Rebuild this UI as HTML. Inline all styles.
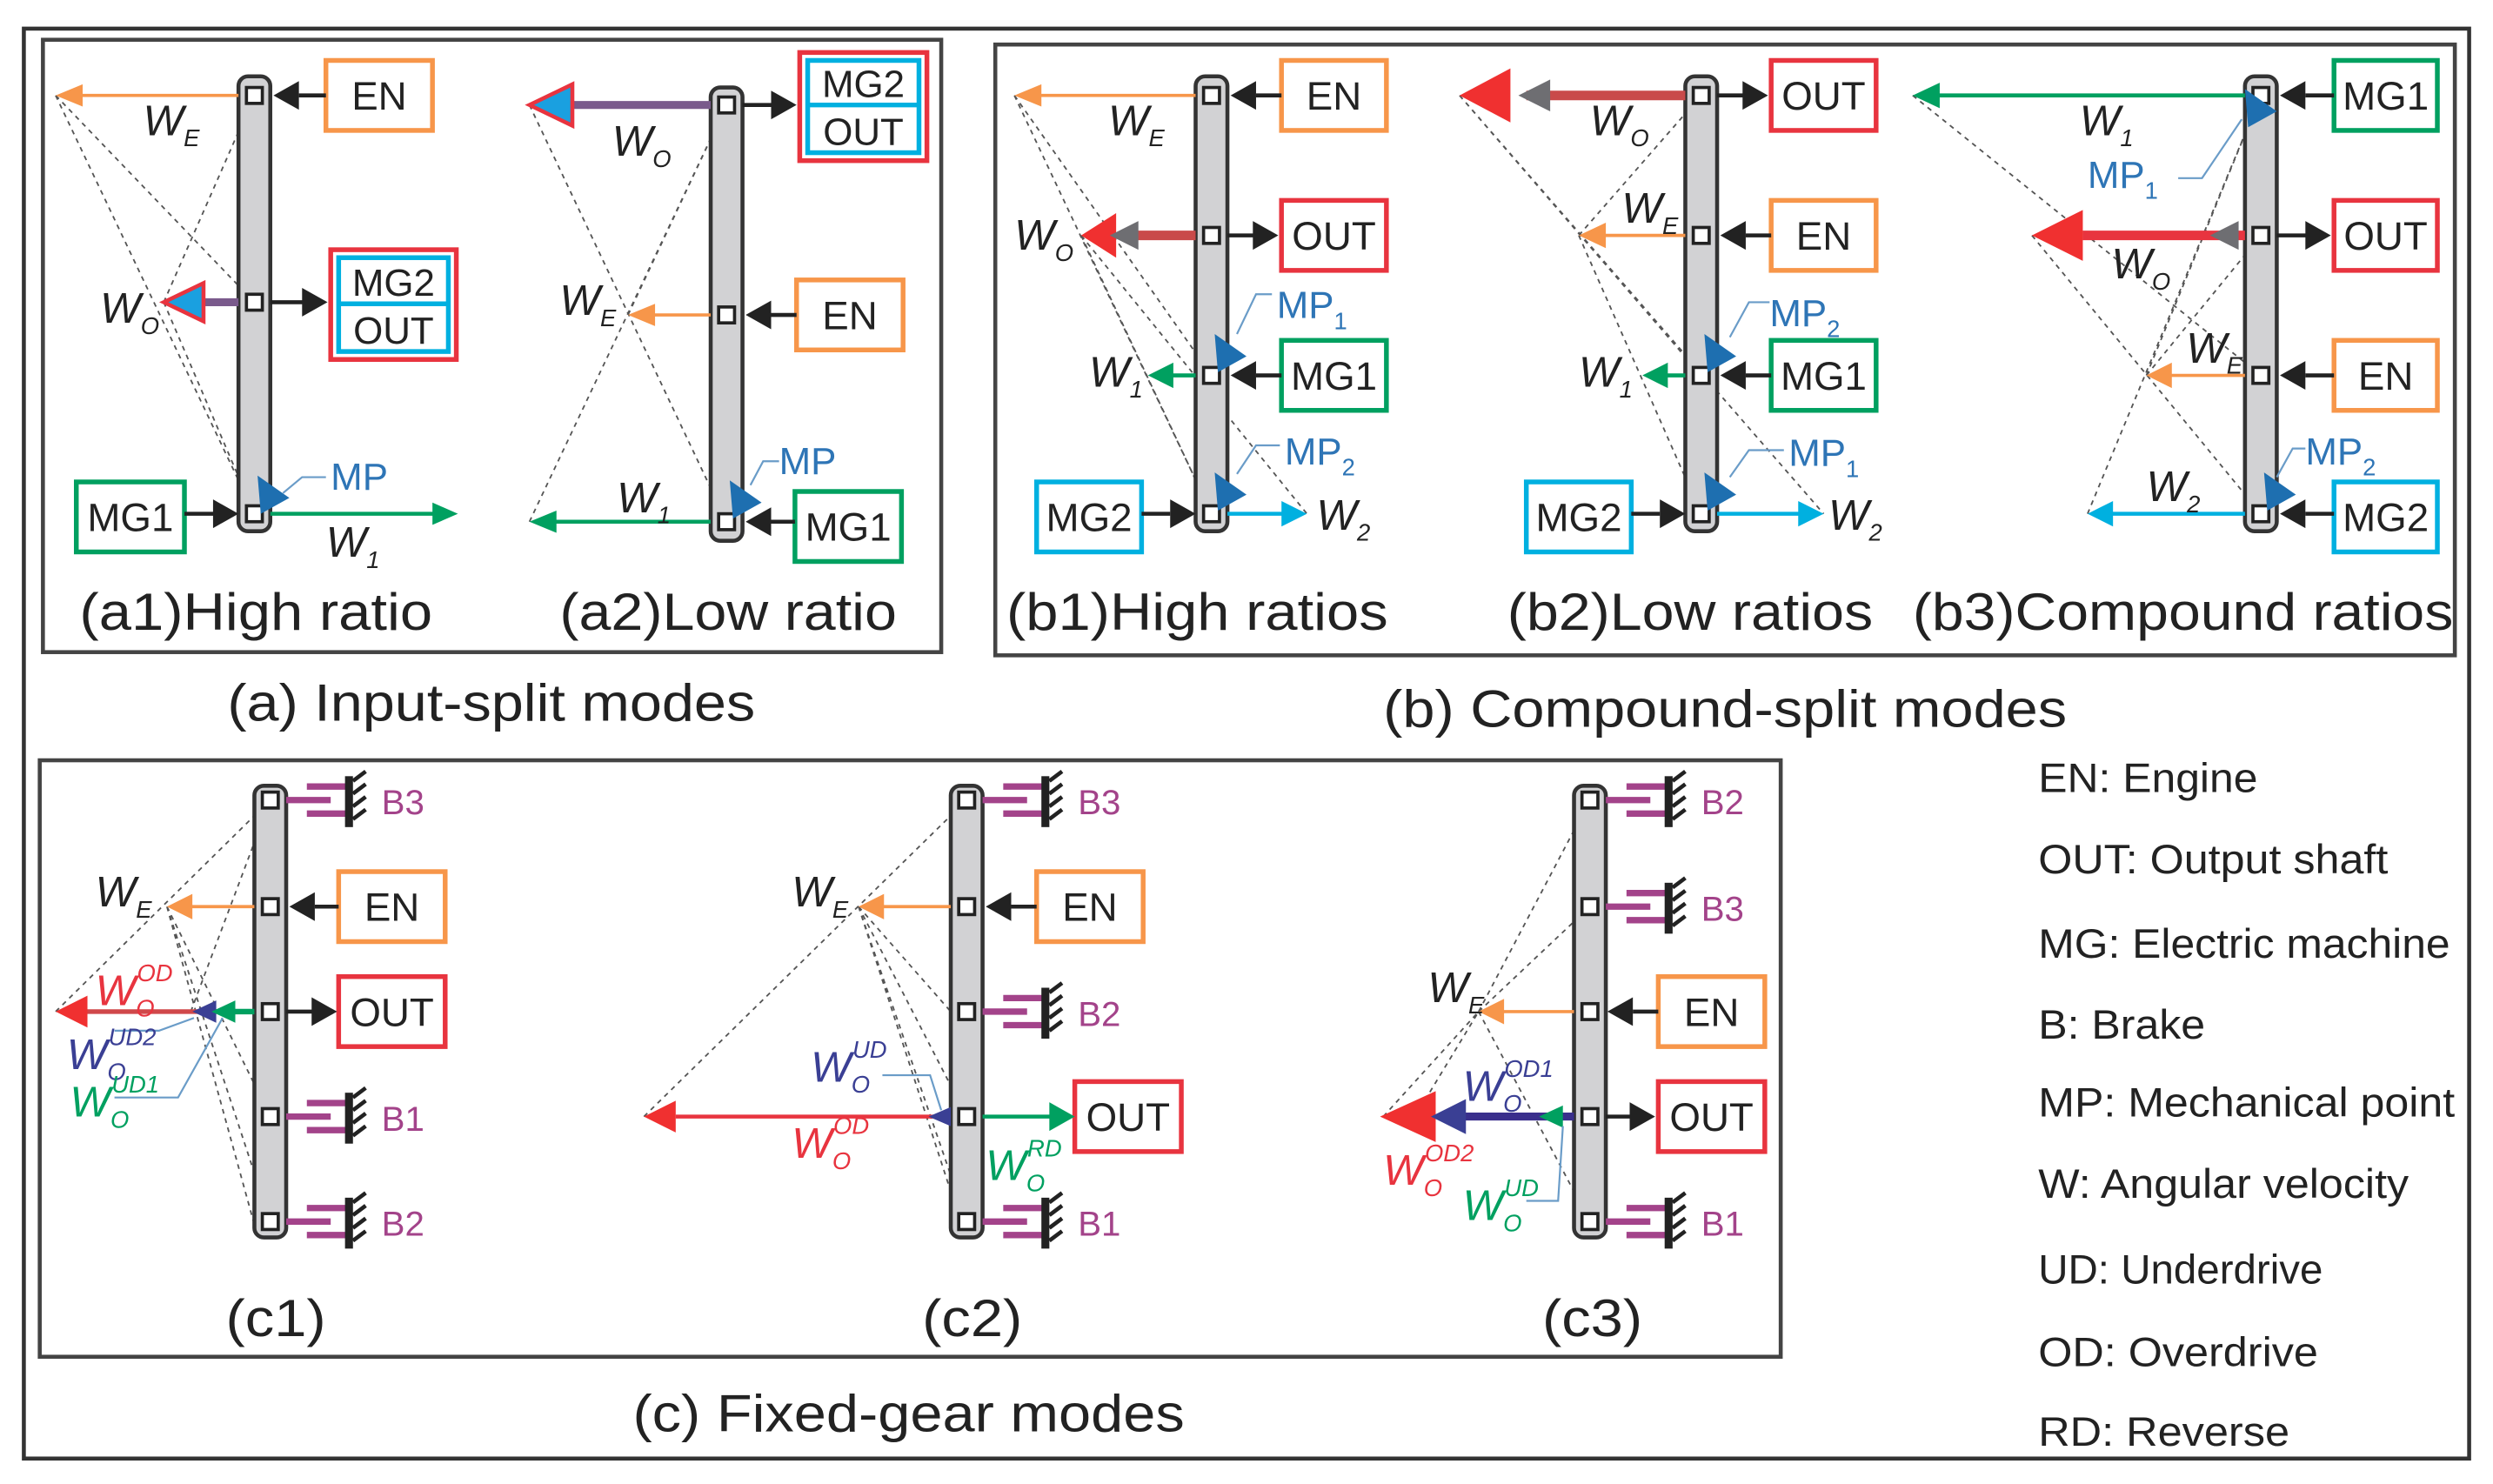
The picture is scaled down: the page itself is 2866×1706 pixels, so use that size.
<!DOCTYPE html>
<html><head><meta charset="utf-8"><style>
html,body{margin:0;padding:0;background:#fff}
svg{display:block}
text{font-family:"Liberation Sans",Arial,sans-serif}
.bx{font-size:25px;fill:#222;text-anchor:middle}
.w{font-size:27px;font-style:italic;fill:#222}
.s{font-size:15px;font-style:italic}
.mp{font-size:24px;fill:#2e75b6}
.lb{font-size:33px;fill:#222}
.lg{font-size:26px;fill:#222}
.br{font-size:22px;fill:#a3438a}
.d{stroke:#555;stroke-width:1;stroke-dasharray:3 3;fill:none}
.lev{fill:#d2d2d4;stroke:#333;stroke-width:2.5}
.nd{fill:#fff;stroke:#222;stroke-width:2}
.k{stroke:#222;stroke-width:2.5}
</style></head><body>
<svg width="2866" height="1706" viewBox="0 0 1568 933" preserveAspectRatio="none" xmlns="http://www.w3.org/2000/svg">
<defs>
<g id="brk">
<path d="M10,0H38M23,-8.5H49M23,8.5H49" stroke="#a3438a" stroke-width="4"/>
<rect x="47" y="-15" width="5" height="32" fill="#222"/>
<path d="M52,-12l8,-6M52,-4l8,-6M52,4l8,-6M52,12l8,-6" stroke="#222" stroke-width="2.5"/>
</g>
<g id="mpt"><polygon points="2,-24 22,-10 4,0" fill="#1e6fb0"/></g>
</defs>
<rect x="0" y="0" width="1568" height="933" fill="#fff"/>
<rect x="15" y="18" width="1538" height="899" fill="none" stroke="#333" stroke-width="2.5"/>
<rect x="27" y="25" width="565" height="385" fill="none" stroke="#444" stroke-width="2.5"/>
<rect x="626" y="28" width="918" height="384" fill="none" stroke="#444" stroke-width="2.5"/>
<rect x="25" y="478" width="1095" height="375" fill="none" stroke="#444" stroke-width="2.5"/>

<!-- ===== a1 ===== -->
<path class="d" d="M35,60L160,323M35,60L160,190M103,190L160,323M103,190L160,60"/>
<rect class="lev" x="150" y="48" width="20" height="286" rx="6"/>
<rect class="nd" x="155" y="55" width="10" height="10"/><rect class="nd" x="155" y="185" width="10" height="10"/><rect class="nd" x="155" y="318" width="10" height="10"/>
<rect x="205" y="38" width="67" height="44" fill="#fff" stroke="#f7964a" stroke-width="3"/><text class="bx" x="238.5" y="69">EN</text>
<line class="k" x1="188" y1="60" x2="205" y2="60"/><polygon points="172,60 188,51 188,69" fill="#222"/>
<line x1="150" y1="60" x2="50" y2="60" stroke="#f7964a" stroke-width="2"/><polygon points="35,60 52,53 52,67" fill="#f7964a"/>
<text class="w" x="90" y="85">W<tspan class="s" dy="7">E</tspan></text>
<rect x="208" y="157" width="79" height="69" fill="#fff" stroke="#e8343f" stroke-width="3"/>
<rect x="213" y="162" width="69" height="59" fill="#fff" stroke="#00b0e0" stroke-width="3"/><line x1="213" y1="191" x2="282" y2="191" stroke="#00b0e0" stroke-width="3"/>
<text class="bx" x="247.5" y="186" style="font-size:24px">MG2</text><text class="bx" x="247.5" y="216" style="font-size:24px">OUT</text>
<line class="k" x1="170" y1="190" x2="192" y2="190"/><polygon points="206,190 190,181 190,199" fill="#222"/>
<line x1="150" y1="190" x2="120" y2="190" stroke="#7a5a8c" stroke-width="5"/><polygon points="103,190 128,178 128,202" fill="#1aa0e0" stroke="#e8343f" stroke-width="2.5"/>
<text class="w" x="63" y="203">W<tspan class="s" dy="7">O</tspan></text>
<rect x="48" y="303" width="68" height="44" fill="#fff" stroke="#00a060" stroke-width="3"/><text class="bx" x="82" y="334">MG1</text>
<line class="k" x1="116" y1="323" x2="136" y2="323"/><polygon points="150,323 134,314 134,332" fill="#222"/>
<line x1="170" y1="323" x2="274" y2="323" stroke="#00a060" stroke-width="2.5"/><polygon points="288,323 272,316 272,330" fill="#00a060"/>
<text class="w" x="205" y="350">W<tspan class="s" dy="7">1</tspan></text>
<use href="#mpt" x="160" y="323"/><path d="M205,300H190L178,310" stroke="#6a9cc8" stroke-width="1.2" fill="none"/><text class="mp" x="208" y="308">MP</text>

<!-- ===== a2 ===== -->
<path class="d" d="M333,66L457,328M333,328L457,66M395,198L457,66"/>
<rect class="lev" x="447" y="55" width="20" height="285" rx="6"/>
<rect class="nd" x="452" y="61" width="10" height="10"/><rect class="nd" x="452" y="193" width="10" height="10"/><rect class="nd" x="452" y="323" width="10" height="10"/>
<rect x="503" y="33" width="80" height="68" fill="#fff" stroke="#e8343f" stroke-width="3"/>
<rect x="508" y="38" width="70" height="58" fill="#fff" stroke="#00b0e0" stroke-width="3"/><line x1="508" y1="66" x2="578" y2="66" stroke="#00b0e0" stroke-width="3"/>
<text class="bx" x="543" y="61" style="font-size:24px">MG2</text><text class="bx" x="543" y="91" style="font-size:24px">OUT</text>
<line class="k" x1="467" y1="66" x2="487" y2="66"/><polygon points="501,66 485,57 485,75" fill="#222"/>
<line x1="447" y1="66" x2="355" y2="66" stroke="#7a5a8c" stroke-width="5"/><polygon points="333,66 360,53 360,79" fill="#1aa0e0" stroke="#e8343f" stroke-width="2.5"/>
<text class="w" x="385" y="98">W<tspan class="s" dy="7">O</tspan></text>
<rect x="501" y="176" width="67" height="44" fill="#fff" stroke="#f7964a" stroke-width="3"/><text class="bx" x="534.5" y="207">EN</text>
<line class="k" x1="485" y1="198" x2="501" y2="198"/><polygon points="469,198 485,189 485,207" fill="#222"/>
<line x1="447" y1="198" x2="408" y2="198" stroke="#f7964a" stroke-width="2"/><polygon points="395,198 412,191 412,205" fill="#f7964a"/>
<text class="w" x="352" y="198">W<tspan class="s" dy="7">E</tspan></text>
<rect x="500" y="309" width="67" height="44" fill="#fff" stroke="#00a060" stroke-width="3"/><text class="bx" x="533.5" y="340">MG1</text>
<line class="k" x1="485" y1="328" x2="500" y2="328"/><polygon points="469,328 485,319 485,337" fill="#222"/>
<line x1="447" y1="328" x2="347" y2="328" stroke="#00a060" stroke-width="2.5"/><polygon points="333,328 350,321 350,335" fill="#00a060"/>
<text class="w" x="388" y="322">W<tspan class="s" dy="7">1</tspan></text>
<use href="#mpt" x="457" y="326"/><path d="M490,290H480L472,305" stroke="#6a9cc8" stroke-width="1.2" fill="none"/><text class="mp" x="490" y="298">MP</text>
<text class="lb" x="50" y="396" textLength="222" lengthAdjust="spacingAndGlyphs">(a1)High ratio</text>
<text class="lb" x="352" y="396" textLength="212" lengthAdjust="spacingAndGlyphs">(a2)Low ratio</text>
<text class="lb" x="143" y="453" textLength="332" lengthAdjust="spacingAndGlyphs">(a) Input-split modes</text>

<!-- ===== b1 ===== -->
<path class="d" d="M638,60L762,323M638,60L762,236M680,148L762,323M680,148L822,323"/>
<rect class="lev" x="752" y="48" width="20" height="286" rx="6"/>
<rect class="nd" x="757" y="55" width="10" height="10"/><rect class="nd" x="757" y="143" width="10" height="10"/><rect class="nd" x="757" y="231" width="10" height="10"/><rect class="nd" x="757" y="318" width="10" height="10"/>
<rect x="806" y="38" width="66" height="44" fill="#fff" stroke="#f7964a" stroke-width="3"/><text class="bx" x="839" y="69">EN</text>
<line class="k" x1="790" y1="60" x2="806" y2="60"/><polygon points="774,60 790,51 790,69" fill="#222"/>
<line x1="752" y1="60" x2="650" y2="60" stroke="#f7964a" stroke-width="2"/><polygon points="638,60 655,53 655,67" fill="#f7964a"/>
<text class="w" x="697" y="85">W<tspan class="s" dy="7">E</tspan></text>
<rect x="806" y="126" width="66" height="44" fill="#fff" stroke="#e8343f" stroke-width="3"/><text class="bx" x="839" y="157">OUT</text>
<line class="k" x1="772" y1="148" x2="790" y2="148"/><polygon points="804,148 788,139 788,157" fill="#222"/>
<line x1="752" y1="148" x2="705" y2="148" stroke="#c94a4a" stroke-width="6"/><polygon points="680,148 702,134 702,162" fill="#f03030"/><polygon points="698,148 716,139 716,157" fill="#6e6e72"/>
<text class="w" x="638" y="157">W<tspan class="s" dy="7">O</tspan></text>
<rect x="806" y="214" width="66" height="44" fill="#fff" stroke="#00a060" stroke-width="3"/><text class="bx" x="839" y="245">MG1</text>
<line class="k" x1="790" y1="236" x2="806" y2="236"/><polygon points="774,236 790,227 790,245" fill="#222"/>
<line x1="752" y1="236" x2="735" y2="236" stroke="#00a060" stroke-width="2.5"/><polygon points="722,236 738,228 738,244" fill="#00a060"/>
<text class="w" x="685" y="243">W<tspan class="s" dy="7">1</tspan></text>
<rect x="652" y="303" width="66" height="44" fill="#fff" stroke="#00b0e0" stroke-width="3"/><text class="bx" x="685" y="334">MG2</text>
<line class="k" x1="718" y1="323" x2="736" y2="323"/><polygon points="752,323 736,314 736,332" fill="#222"/>
<line x1="772" y1="323" x2="810" y2="323" stroke="#00b0e0" stroke-width="2.5"/><polygon points="822,323 806,315 806,331" fill="#00b0e0"/>
<text class="w" x="828" y="333">W<tspan class="s" dy="7">2</tspan></text>
<use href="#mpt" x="762" y="234"/><path d="M800,185H790L778,210" stroke="#6a9cc8" stroke-width="1.2" fill="none"/><text class="mp" x="803" y="200">MP<tspan class="s" dy="7" style="font-style:normal">1</tspan></text>
<use href="#mpt" x="762" y="321"/><path d="M805,280H790L778,298" stroke="#6a9cc8" stroke-width="1.2" fill="none"/><text class="mp" x="808" y="292">MP<tspan class="s" dy="7" style="font-style:normal">2</tspan></text>

<!-- ===== b2 ===== -->
<path class="d" d="M918,60L1070,236M993,148L1070,323M993,148L1070,60M918,60L1147,323"/>
<rect class="lev" x="1060" y="48" width="20" height="286" rx="6"/>
<rect class="nd" x="1065" y="55" width="10" height="10"/><rect class="nd" x="1065" y="143" width="10" height="10"/><rect class="nd" x="1065" y="231" width="10" height="10"/><rect class="nd" x="1065" y="318" width="10" height="10"/>
<rect x="1114" y="38" width="66" height="44" fill="#fff" stroke="#e8343f" stroke-width="3"/><text class="bx" x="1147" y="69">OUT</text>
<line class="k" x1="1080" y1="60" x2="1098" y2="60"/><polygon points="1112,60 1096,51 1096,69" fill="#222"/>
<line x1="1060" y1="60" x2="960" y2="60" stroke="#c94a4a" stroke-width="6"/><polygon points="918,60 950,43 950,77" fill="#f03030"/><polygon points="955,60 975,50 975,70" fill="#6e6e72"/>
<text class="w" x="1000" y="85">W<tspan class="s" dy="7">O</tspan></text>
<rect x="1114" y="126" width="66" height="44" fill="#fff" stroke="#f7964a" stroke-width="3"/><text class="bx" x="1147" y="157">EN</text>
<line class="k" x1="1098" y1="148" x2="1114" y2="148"/><polygon points="1082,148 1098,139 1098,157" fill="#222"/>
<line x1="1060" y1="148" x2="1005" y2="148" stroke="#f7964a" stroke-width="2"/><polygon points="993,148 1010,140 1010,156" fill="#f7964a"/>
<text class="w" x="1020" y="140">W<tspan class="s" dy="7">E</tspan></text>
<rect x="1114" y="214" width="66" height="44" fill="#fff" stroke="#00a060" stroke-width="3"/><text class="bx" x="1147" y="245">MG1</text>
<line class="k" x1="1098" y1="236" x2="1114" y2="236"/><polygon points="1082,236 1098,227 1098,245" fill="#222"/>
<line x1="1060" y1="236" x2="1045" y2="236" stroke="#00a060" stroke-width="2.5"/><polygon points="1033,236 1049,228 1049,244" fill="#00a060"/>
<text class="w" x="993" y="243">W<tspan class="s" dy="7">1</tspan></text>
<rect x="960" y="303" width="66" height="44" fill="#fff" stroke="#00b0e0" stroke-width="3"/><text class="bx" x="993" y="334">MG2</text>
<line class="k" x1="1026" y1="323" x2="1044" y2="323"/><polygon points="1060,323 1044,314 1044,332" fill="#222"/>
<line x1="1080" y1="323" x2="1135" y2="323" stroke="#00b0e0" stroke-width="2.5"/><polygon points="1147,323 1131,315 1131,331" fill="#00b0e0"/>
<text class="w" x="1150" y="333">W<tspan class="s" dy="7">2</tspan></text>
<use href="#mpt" x="1070" y="234"/><path d="M1113,190H1100L1088,212" stroke="#6a9cc8" stroke-width="1.2" fill="none"/><text class="mp" x="1113" y="205">MP<tspan class="s" dy="7" style="font-style:normal">2</tspan></text>
<use href="#mpt" x="1070" y="321"/><path d="M1122,283H1100L1088,300" stroke="#6a9cc8" stroke-width="1.2" fill="none"/><text class="mp" x="1125" y="293">MP<tspan class="s" dy="7" style="font-style:normal">1</tspan></text>

<!-- ===== b3 ===== -->
<path class="d" d="M1203,60L1422,236M1278,148L1422,323M1350,236L1422,60M1313,323L1422,60M1350,236L1422,148"/>
<rect class="lev" x="1412" y="48" width="20" height="286" rx="6"/>
<rect class="nd" x="1417" y="55" width="10" height="10"/><rect class="nd" x="1417" y="143" width="10" height="10"/><rect class="nd" x="1417" y="231" width="10" height="10"/><rect class="nd" x="1417" y="318" width="10" height="10"/>
<rect x="1468" y="38" width="65" height="44" fill="#fff" stroke="#00a060" stroke-width="3"/><text class="bx" x="1500.5" y="69">MG1</text>
<line class="k" x1="1450" y1="60" x2="1468" y2="60"/><polygon points="1434,60 1450,51 1450,69" fill="#222"/>
<line x1="1412" y1="60" x2="1215" y2="60" stroke="#00a060" stroke-width="2.5"/><polygon points="1203,60 1220,52 1220,68" fill="#00a060"/>
<text class="w" x="1308" y="85">W<tspan class="s" dy="7">1</tspan></text>
<rect x="1468" y="126" width="65" height="44" fill="#fff" stroke="#e8343f" stroke-width="3"/><text class="bx" x="1500.5" y="157">OUT</text>
<line class="k" x1="1432" y1="148" x2="1452" y2="148"/><polygon points="1466,148 1450,139 1450,157" fill="#222"/>
<line x1="1412" y1="148" x2="1310" y2="148" stroke="#e8343f" stroke-width="6"/><polygon points="1278,148 1310,132 1310,164" fill="#f03030"/><polygon points="1390,148 1408,139 1408,157" fill="#6e6e72"/>
<text class="w" x="1328" y="175">W<tspan class="s" dy="7">O</tspan></text>
<rect x="1468" y="214" width="65" height="44" fill="#fff" stroke="#f7964a" stroke-width="3"/><text class="bx" x="1500.5" y="245">EN</text>
<line class="k" x1="1450" y1="236" x2="1468" y2="236"/><polygon points="1434,236 1450,227 1450,245" fill="#222"/>
<line x1="1412" y1="236" x2="1362" y2="236" stroke="#f7964a" stroke-width="2"/><polygon points="1350,236 1366,228 1366,244" fill="#f7964a"/>
<text class="w" x="1375" y="228">W<tspan class="s" dy="7">E</tspan></text>
<rect x="1468" y="303" width="65" height="44" fill="#fff" stroke="#00b0e0" stroke-width="3"/><text class="bx" x="1500.5" y="334">MG2</text>
<line class="k" x1="1450" y1="323" x2="1468" y2="323"/><polygon points="1434,323 1450,314 1450,332" fill="#222"/>
<line x1="1412" y1="323" x2="1325" y2="323" stroke="#00b0e0" stroke-width="2.5"/><polygon points="1313,323 1329,315 1329,331" fill="#00b0e0"/>
<text class="w" x="1350" y="315">W<tspan class="s" dy="7">2</tspan></text>
<use href="#mpt" x="1410" y="80"/><path d="M1370,112H1385L1410,75" stroke="#6a9cc8" stroke-width="1.2" fill="none"/><text class="mp" x="1313" y="118">MP<tspan class="s" dy="7" style="font-style:normal">1</tspan></text>
<use href="#mpt" x="1422" y="321"/><path d="M1450,282H1442L1432,300" stroke="#6a9cc8" stroke-width="1.2" fill="none"/><text class="mp" x="1450" y="292">MP<tspan class="s" dy="7" style="font-style:normal">2</tspan></text>
<text class="lb" x="633" y="396" textLength="240" lengthAdjust="spacingAndGlyphs">(b1)High ratios</text>
<text class="lb" x="948" y="396" textLength="230" lengthAdjust="spacingAndGlyphs">(b2)Low ratios</text>
<text class="lb" x="1203" y="396" textLength="340" lengthAdjust="spacingAndGlyphs">(b3)Compound ratios</text>
<text class="lb" x="870" y="457" textLength="430" lengthAdjust="spacingAndGlyphs">(b) Compound-split modes</text>

<!-- ===== c1 ===== -->
<path class="d" d="M35,636L170,503M105,570L170,768M105,570L170,702M105,570L160,770M120,636L170,503"/>
<rect class="lev" x="160" y="494" width="20" height="284" rx="6"/>
<rect class="nd" x="165" y="498" width="10" height="10"/><rect class="nd" x="165" y="565" width="10" height="10"/><rect class="nd" x="165" y="631" width="10" height="10"/><rect class="nd" x="165" y="697" width="10" height="10"/><rect class="nd" x="165" y="763" width="10" height="10"/>
<use href="#brk" x="170" y="503"/><text class="br" x="240" y="512">B3</text>
<use href="#brk" x="170" y="702"/><text class="br" x="240" y="711">B1</text>
<use href="#brk" x="170" y="768"/><text class="br" x="240" y="777">B2</text>
<rect x="213" y="548" width="67" height="44" fill="#fff" stroke="#f7964a" stroke-width="3"/><text class="bx" x="246.5" y="579">EN</text>
<line class="k" x1="198" y1="570" x2="213" y2="570"/><polygon points="182,570 198,561 198,579" fill="#222"/>
<line x1="160" y1="570" x2="118" y2="570" stroke="#f7964a" stroke-width="2"/><polygon points="105,570 121,562 121,578" fill="#f7964a"/>
<text class="w" x="60" y="570">W<tspan class="s" dy="7">E</tspan></text>
<rect x="213" y="614" width="67" height="44" fill="#fff" stroke="#e8343f" stroke-width="3"/><text class="bx" x="246.5" y="645">OUT</text>
<line class="k" x1="180" y1="636" x2="198" y2="636"/><polygon points="212,636 196,627 196,645" fill="#222"/>
<line x1="160" y1="636" x2="50" y2="636" stroke="#d0484a" stroke-width="3"/><line x1="160" y1="636" x2="140" y2="636" stroke="#00a060" stroke-width="3.5"/>
<polygon points="35,636 55,626 55,646" fill="#f03030"/><polygon points="121,636 136,629 136,643" fill="#3a3f94"/><polygon points="133,636 148,629 148,643" fill="#00a060"/>
<path d="M72,648H100L122,640M72,690H112L140,640" stroke="#6a9cc8" stroke-width="1.2" fill="none"/>
<text class="w" x="60" y="632" style="fill:#e8343f">W<tspan class="s" dy="7">O</tspan><tspan class="s" dx="-11" dy="-22">OD</tspan></text>
<text class="w" x="42" y="672" style="fill:#3a3f94">W<tspan class="s" dy="7">O</tspan><tspan class="s" dx="-11" dy="-22">UD2</tspan></text>
<text class="w" x="44" y="702" style="fill:#00a060">W<tspan class="s" dy="7">O</tspan><tspan class="s" dx="-11" dy="-22">UD1</tspan></text>
<text class="lb" x="142" y="840" textLength="63" lengthAdjust="spacingAndGlyphs">(c1)</text>

<!-- ===== c2 ===== -->
<path class="d" d="M405,702L608,503M540,570L608,768M540,570L608,702M540,570L598,636M540,570L608,780"/>
<rect class="lev" x="598" y="494" width="20" height="284" rx="6"/>
<rect class="nd" x="603" y="498" width="10" height="10"/><rect class="nd" x="603" y="565" width="10" height="10"/><rect class="nd" x="603" y="631" width="10" height="10"/><rect class="nd" x="603" y="697" width="10" height="10"/><rect class="nd" x="603" y="763" width="10" height="10"/>
<use href="#brk" x="608" y="503"/><text class="br" x="678" y="512">B3</text>
<use href="#brk" x="608" y="636"/><text class="br" x="678" y="645">B2</text>
<use href="#brk" x="608" y="768"/><text class="br" x="678" y="777">B1</text>
<rect x="652" y="548" width="67" height="44" fill="#fff" stroke="#f7964a" stroke-width="3"/><text class="bx" x="685.5" y="579">EN</text>
<line class="k" x1="636" y1="570" x2="652" y2="570"/><polygon points="620,570 636,561 636,579" fill="#222"/>
<line x1="598" y1="570" x2="553" y2="570" stroke="#f7964a" stroke-width="2"/><polygon points="540,570 556,562 556,578" fill="#f7964a"/>
<text class="w" x="498" y="570">W<tspan class="s" dy="7">E</tspan></text>
<rect x="676" y="680" width="67" height="44" fill="#fff" stroke="#e8343f" stroke-width="3"/><text class="bx" x="709.5" y="711">OUT</text>
<line x1="618" y1="702" x2="662" y2="702" stroke="#00a060" stroke-width="2.5"/><polygon points="676,702 660,693 660,711" fill="#00a060"/>
<line x1="598" y1="702" x2="425" y2="702" stroke="#e8343f" stroke-width="2.5"/><polygon points="405,702 425,692 425,712" fill="#f03030"/><polygon points="584,702 598,696 598,708" fill="#3a3f94"/>
<path d="M555,676H585L592,698" stroke="#6a9cc8" stroke-width="1.2" fill="none"/>
<text class="w" x="510" y="680" style="fill:#3a3f94">W<tspan class="s" dy="7">O</tspan><tspan class="s" dx="-11" dy="-22">UD</tspan></text>
<text class="w" x="498" y="728" style="fill:#e8343f">W<tspan class="s" dy="7">O</tspan><tspan class="s" dx="-11" dy="-22">OD</tspan></text>
<text class="w" x="620" y="742" style="fill:#00a060">W<tspan class="s" dy="7">O</tspan><tspan class="s" dx="-11" dy="-22">RD</tspan></text>
<text class="lb" x="580" y="840" textLength="63" lengthAdjust="spacingAndGlyphs">(c2)</text>

<!-- ===== c3 ===== -->
<path class="d" d="M870,702L930,636M890,702L930,636M930,636L1000,503M930,636L1000,768M930,636L1000,570"/>
<rect class="lev" x="990" y="494" width="20" height="284" rx="6"/>
<rect class="nd" x="995" y="498" width="10" height="10"/><rect class="nd" x="995" y="565" width="10" height="10"/><rect class="nd" x="995" y="631" width="10" height="10"/><rect class="nd" x="995" y="697" width="10" height="10"/><rect class="nd" x="995" y="763" width="10" height="10"/>
<use href="#brk" x="1000" y="503"/><text class="br" x="1070" y="512">B2</text>
<use href="#brk" x="1000" y="570"/><text class="br" x="1070" y="579">B3</text>
<use href="#brk" x="1000" y="768"/><text class="br" x="1070" y="777">B1</text>
<rect x="1043" y="614" width="67" height="44" fill="#fff" stroke="#f7964a" stroke-width="3"/><text class="bx" x="1076.5" y="645">EN</text>
<line class="k" x1="1027" y1="636" x2="1043" y2="636"/><polygon points="1011,636 1027,627 1027,645" fill="#222"/>
<line x1="990" y1="636" x2="943" y2="636" stroke="#f7964a" stroke-width="2"/><polygon points="930,636 946,628 946,644" fill="#f7964a"/>
<text class="w" x="898" y="630">W<tspan class="s" dy="7">E</tspan></text>
<rect x="1043" y="680" width="67" height="44" fill="#fff" stroke="#e8343f" stroke-width="3"/><text class="bx" x="1076.5" y="711">OUT</text>
<line class="k" x1="1010" y1="702" x2="1027" y2="702"/><polygon points="1041,702 1025,693 1025,711" fill="#222"/>
<line x1="990" y1="702" x2="915" y2="702" stroke="#3a2f8c" stroke-width="5"/>
<polygon points="868,702 903,686 903,718" fill="#f03030"/><polygon points="900,702 922,691 922,713" fill="#3a3f94"/><polygon points="968,702 983,695 983,709" fill="#00a060"/>
<path d="M960,755H980L983,708" stroke="#6a9cc8" stroke-width="1.2" fill="none"/>
<text class="w" x="920" y="692" style="fill:#3a3f94">W<tspan class="s" dy="7">O</tspan><tspan class="s" dx="-11" dy="-22">OD1</tspan></text>
<text class="w" x="870" y="745" style="fill:#e8343f">W<tspan class="s" dy="7">O</tspan><tspan class="s" dx="-11" dy="-22">OD2</tspan></text>
<text class="w" x="920" y="767" style="fill:#00a060">W<tspan class="s" dy="7">O</tspan><tspan class="s" dx="-11" dy="-22">UD</tspan></text>
<text class="lb" x="970" y="840" textLength="63" lengthAdjust="spacingAndGlyphs">(c3)</text>
<text class="lb" x="398" y="900" textLength="347" lengthAdjust="spacingAndGlyphs">(c) Fixed-gear modes</text>

<!-- legend -->
<text class="lg" x="1282" y="498" textLength="138" lengthAdjust="spacingAndGlyphs">EN: Engine</text>
<text class="lg" x="1282" y="549" textLength="220" lengthAdjust="spacingAndGlyphs">OUT: Output shaft</text>
<text class="lg" x="1282" y="602" textLength="259" lengthAdjust="spacingAndGlyphs">MG: Electric machine</text>
<text class="lg" x="1282" y="653" textLength="105" lengthAdjust="spacingAndGlyphs">B: Brake</text>
<text class="lg" x="1282" y="702" textLength="262" lengthAdjust="spacingAndGlyphs">MP: Mechanical point</text>
<text class="lg" x="1282" y="753" textLength="233" lengthAdjust="spacingAndGlyphs">W: Angular velocity</text>
<text class="lg" x="1282" y="807" textLength="179" lengthAdjust="spacingAndGlyphs">UD: Underdrive</text>
<text class="lg" x="1282" y="859" textLength="176" lengthAdjust="spacingAndGlyphs">OD: Overdrive</text>
<text class="lg" x="1282" y="909" textLength="158" lengthAdjust="spacingAndGlyphs">RD: Reverse</text>
</svg>
</body></html>
